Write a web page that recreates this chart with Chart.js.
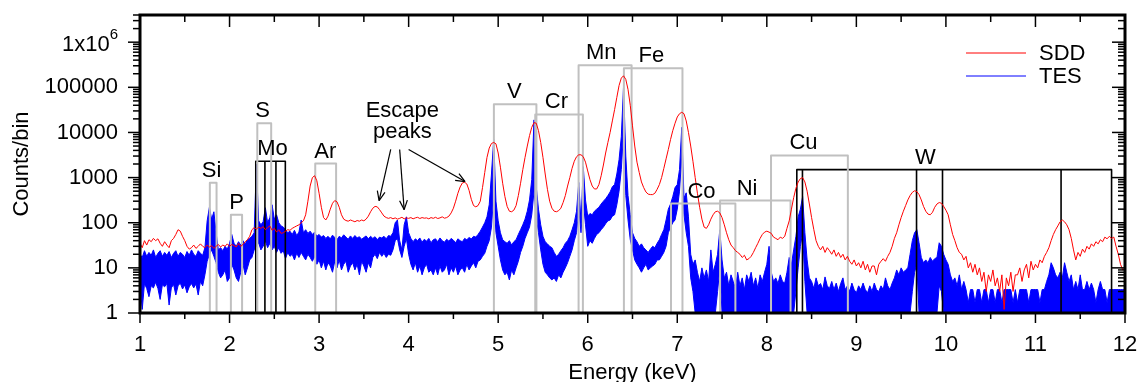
<!DOCTYPE html>
<html><head><meta charset="utf-8">
<script src="https://cdn.jsdelivr.net/npm/chart.js@4"></script>
<style>html,body{margin:0;padding:0;background:#fff}#wrap{width:1138px;height:382px;position:relative}</style>
</head><body><div id="wrap"><canvas id="c" width="1138" height="382"></canvas></div>
<script>
// ---- bin grid (keV): each row holds four 0.025 keV bins starting at 1.0 + 0.1*row
const binStart = 1.0, rowWidth = 0.1, binWidth = 0.025;

// ---- SDD spectrum (counts/bin)
const sddCounts = [
[35,28,40,32],[42,38,45,40],[44,35,30,38],[32,28,40,45],[55,70,65,50],
[40,30,26,28],[32,27,30,34],[30,28,32,29],[31,27,30,33],[29,32,30,34],
[30,33,31,29],[35,30,33,38],[42,50,70,78],[72,80,75,82],[70,78,85,68],
[75,62,70,58],[60,65,70,68],[75,80,85,90],[100,110,150,300],[650,1000,1100,850],
[450,220,130,115],[140,200,270,310],[290,220,150,120],[112,108,115,110],[105,112,108,115],
[110,120,140,175],[210,230,225,195],[165,140,130,125],[130,122,128,120],[125,132,122,128],
[125,130,122,128],[132,124,130,126],[128,122,130,125],[132,124,128,135],[126,130,140,165],
[210,300,450,620],[760,790,720,520],[330,240,225,240],[300,600,1300,2800],[4500,5700,6000,5600],
[3500,1700,750,380],[230,180,175,190],[240,400,750,1500],[2800,5000,8500,13000],[16500,16000,11000,6000],
[2800,1200,550,300],[210,180,175,185],[210,280,400,650],[1000,1600,2300,2900],[3200,3200,2900,2200],
[1400,900,650,560],[560,700,1100,1900],[3500,6000,10000,18000],[32000,60000,110000,160000],[180000,150000,90000,40000],
[14000,5000,2200,1300],[800,600,480,430],[420,420,450,550],[700,1000,1600,2600],[4200,7000,11000,16000],
[22000,26000,28000,26000],[18000,10000,5000,2300],[1000,450,220,120],[80,75,90,120],[150,175,180,165],
[130,90,60,42],[32,28,24,22],[20,17,19,15],[16,18,22,28],[35,45,55,62],
[65,62,58,48],[45,42,48,45],[50,75,110,200],[360,580,800,950],[1000,800,500,260],
[130,70,40,30],[25,30,22,28],[24,20,25,18],[22,17,20,15],[18,14,12,15],
[11,13,10,14],[9,12,8,11],[11,7,12,14],[16,14,18,22],[30,45,60,90],
[130,180,240,320],[400,470,510,490],[420,320,230,180],[155,150,170,220],[260,280,270,230],
[190,150,90,55],[40,28,22,20],[15,18,10,13],[8,12,7,10],[5,8,3,7],
[5,9,4,6],[3,7,1.2,6],[4,8,3,7],[7,10,5,9],[12,6,14,9],
[12,10,15,13],[18,22,28,40],[55,70,85,105],[115,105,90,70],[45,25,15,22],
[18,26,22,30],[26,34,30,38],[34,42,38,48],[44,50,45,48],[30,20,12,9],
[10]
];

// ---- TES spectrum: upper and lower edge of the noisy trace (counts/bin)
const tesHigh = [
[20,17,24,18],[22,19,25,17],[21,24,18,22],[19,23,17,21],[24,18,22,20],
[17,23,19,25],[20,18,24,21],[19,28,110,220],[120,175,60,25],[28,24,30,26],
[35,55,35,30],[38,32,40,34],[42,45,50,60],[2000,110,90,105],[215,100,130,250],
[120,150,100,85],[80,70,60,65],[55,68,52,62],[115,60,70,58],[65,55,62,50],
[55,48,52,45],[50,44,53,47],[42,50,46,54],[48,43,51,45],[52,46,49,43],
[47,51,44,50],[45,49,42,48],[46,50,44,52],[50,60,100,115],[40,25,90,135],
[60,45,38,44],[40,46,37,43],[39,45,36,42],[44,38,46,40],[37,43,39,45],
[41,36,44,40],[38,45,42,47],[44,50,48,55],[65,80,100,135],[250,1200,7000,300],
[110,60,42,38],[35,40,32,38],[42,55,70,90],[120,180,320,900],[19000,630,200,90],
[50,38,34,30],[28,22,18,20],[24,28,35,40],[50,70,100,180],[780,100,1750,320],
[140,160,150,180],[200,220,260,300],[340,400,480,630],[700,1200,2500,8000],[105000,3000,400,150],
[60,45,38,30],[34,28,25,22],[26,30,28,35],[42,55,70,115],[200,260,380,600],
[700,1500,13000,350],[460,135,20,12],[15,8,5,10],[6,9,5,25],[8,12,20,70],
[15,6,8,4],[7,5,3.5,8],[4,6,3.3,7],[5,8,4,6],[3.5,7,5,8],
[12,30,8,5],[6,4.5,7,5],[4.6,8,17,12],[25,50,135,200],[380,60,15,6],
[5,3.5,6,4],[4.5,3.3,6.3,4],[3.5,5,3.3,4.6],[3,4.5,6,3.3],[4,3,4.6,3.3],
[2.8,4,3.3,4.6],[3.3,2.8,4,3],[4.6,3.3,3,4],[3.3,6,4,3.3],[4.6,6,9,7],
[10,8,9,10],[20,40,60,70],[36,17,13,15],[13,17,14,16],[17,36,30,20],
[15,12,7,5],[6,4,7,3.3],[5,3.3,1.7,3.3],[3.3,1.7,3.3,3.3],[1.7,3.3,3.3,1.7],
[3.3,3.3,1.7,3.3],[3.3,1.7,3.3,3.3],[3.3,3.3,1.7,3.3],[1.7,3.3,3.3,3.3],[3.3,1.7,3.3,3.3],
[3.3,3.3,1.7,3.3],[3.3,5,7,13],[10,7,6,8],[6,13,8,5],[7,3.3,5,3.3],
[7,3.3,3.3,5],[3.3,4.6,3.3,1.7],[3.3,5,3.3,3.3],[1.7,3.3,3.3,3.3],[3.3,3.3,3.3,3.3],
[3.3]
];
const tesLow = [
[4,1.2,4.5,3.5],[2.3,4,3.6,4.8],[3.5,2,4.2,3.8],[4.5,1.5,3.6,4.3],[2.5,4,4.6,3.4],
[4.2,2.8,3.8,4.5],[3.6,4.4,2.5,5],[4,7,14,20],[25,18,13,8],[6,7,9,5],
[6,12,9,6],[5,8,12,7],[10,15,17,25],[30,36,25,30],[40,28,35,25],
[30,22,28,21],[24,16,22,18],[20,15,21,17],[22,18,15,20],[17,14,18,12],
[15,10,14,9],[13,11,8,14],[10,15,9,12],[14,8,11,13],[9,12,7,14],
[11,8,13,10],[17,20,16,22],[18,21,17,20],[19,25,40,45],[25,17,30,45],
[20,12,9,13],[8,11,7,10],[12,8,9,7],[10,7,11,8],[9,12,7,10],
[8,11,7,9],[10,8,12,9],[11,13,10,14],[15,18,21,30],[40,80,400,60],
[30,15,9,7],[8,5.4,9,7],[10,14,22,30],[45,60,80,150],[500,135,60,25],
[12,8,7,6],[5.4,6,5,7],[6,8,10,13],[18,25,40,60],[200,60,300,90],
[30,40,35,45],[55,60,70,80],[95,110,115,140],[150,250,500,1500],[10000,400,115,42],
[25,15,12,10],[8,10,12,9],[10,11,12,15],[15,18,22,30],[60,80,100,115],
[200,500,3000,150],[60,30,6,3],[1,1,1,1],[1,1,1,1],[1,1,3,10],
[1,1,1,1],[1,1,1,1],[1,1,1,1],[1,1,1,1],[1,1,1,1],
[1,1,1,1],[1,1,1,1],[1,1,1,1],[1,3,10,30],[60,5,1,1],
[1,1,1,1],[1,1,1,1],[1,1,1,1],[1,1,1,1],[1,1,1,1],
[1,1,1,1],[1,1,1,1],[1,1,1,1],[1,1,1,1],[1,1,1,1],
[1,1,1,1],[1,3,8,12],[1,1,1,1],[1,1,1,1],[1,4,3,1],
[1,1,1,1],[1,1,1,1],[1,1,1,1],[1,1,1,1],[1,1,1,1],
[1,1,1,1],[1,1,1,1],[1,1,1,1],[1,1,1,1],[1,1,1,1],
[1,1,1,1],[1,1,1,1],[1,1,1,1],[1,1,1,1],[1,1,1,1],
[1,1,1,1],[1,1,1,1],[1,1,1,1],[1,1,1,1],[1,1,1,1],
[1]
];

// ---- element line markers (keV) and marker heights (counts/bin)
const elementNames   = ['Si','P','S','Mo','Ar','V','Cr','Mn','Fe','Co','Ni','Cu','W'];
const elementLines   = [[1.78,1.855],[2.015,2.14],[2.31,2.465],[2.293,2.395,2.518,2.623],[2.957,3.19],
                        [4.952,5.427],[5.414,5.946],[5.898,6.49],[6.404,7.058],[6.93,7.649],
                        [7.478,8.265],[8.047,8.905],[8.335,8.398,9.672,9.962,11.286,11.85]];
const elementTops    = [770,150,16000,2300,2050,42000,25000,310000,265000,265,310,3100,1500];
const elementLabelE  = [1.80,2.08,2.37,2.48,3.07,5.18,5.65,6.15,6.71,7.27,7.78,8.41,9.77];

// ---- escape-peak annotation (keV, counts/bin)
const escapeText  = [['Escape',3.93,21500],['peaks',3.93,7700]];
const arrowTails  = [[3.80,4200],[3.90,4200],[4.00,4200]];
const arrowHeads  = [[3.67,310],[3.95,195],[4.63,815]];

// ---- axes
const xRange = [1,12];
const yRange = [1,4e6];
const xMajorTicks = [1,2,3,4,5,6,7,8,9,10,11,12];
const xMinorTicks = [1.5,2.5,3.5,4.5,5.5,6.5,7.5,8.5,9.5,10.5,11.5];
const yMajorTicks = [1,10,100,1000,10000,100000,1000000];
const yTickLabels = ['1','10','100','1000','10000','100000','1x10^6'];
const seriesNames = ['SDD','TES'];

// ---- styling
const FONT = "'Liberation Sans', Arial, Helvetica, sans-serif";
const RED = '#ff0000', BLUE = '#0000ff', GRAY = '#c0c0c0';
const blackMarkers = ['Mo','W'];

function rowsToPoints(rows){
  const pts=[];
  rows.forEach((row,r)=>row.forEach((v,j)=>pts.push({x:+(binStart+r*rowWidth+j*binWidth).toFixed(3),y:v})));
  return pts;
}
function markerPoints(lines, top){
  const a=lines[0], b=lines[lines.length-1];
  const pts=[{x:a,y:1},{x:a,y:top},{x:b,y:top},{x:b,y:1}];
  lines.slice(1,-1).forEach(e=>{pts.push({x:e,y:null},{x:e,y:1},{x:e,y:top});});
  return pts;
}
const yMinor=[];
for(let k=0;k<=6;k++){for(let m=2;m<=9;m++){const v=m*Math.pow(10,k); if(v<=yRange[1]) yMinor.push(v);}}

const datasets=[
  {label:seriesNames[0],data:rowsToPoints(sddCounts),borderColor:RED,borderWidth:1,pointRadius:0,fill:false,order:0},
  {label:seriesNames[1],data:rowsToPoints(tesHigh),borderColor:BLUE,backgroundColor:BLUE,borderWidth:1,pointRadius:0,fill:'+1',order:3},
  {label:'TESlow',data:rowsToPoints(tesLow),borderColor:BLUE,borderWidth:1,pointRadius:0,fill:false,order:3}
];
elementNames.forEach((n,i)=>{
  datasets.push({label:'m_'+n,data:markerPoints(elementLines[i],elementTops[i]),
    borderColor: blackMarkers.includes(n)?'#000':GRAY, borderWidth: blackMarkers.includes(n)?1.6:2,
    pointRadius:0,fill:false,spanGaps:false,order:1});
});

function seg(ctx,x1,y1,x2,y2){ctx.beginPath();ctx.moveTo(x1,y1);ctx.lineTo(x2,y2);ctx.stroke();}

const decor={
  id:'decor',
  afterDraw(chart){
    const {ctx,chartArea:a,scales:{x,y}}=chart;
    ctx.save();
    ctx.strokeStyle='#000';ctx.fillStyle='#000';
    ctx.font='22px '+FONT;ctx.textAlign='center';ctx.textBaseline='alphabetic';
    elementNames.forEach((n,i)=>{
      ctx.fillText(n,x.getPixelForValue(elementLabelE[i]),y.getPixelForValue(elementTops[i])-6);
    });
    escapeText.forEach(t=>ctx.fillText(t[0],x.getPixelForValue(t[1]),y.getPixelForValue(t[2])));
    ctx.lineWidth=1.2;
    arrowTails.forEach((t,i)=>{
      const x1=x.getPixelForValue(t[0]),y1=y.getPixelForValue(t[1]);
      const x2=x.getPixelForValue(arrowHeads[i][0]),y2=y.getPixelForValue(arrowHeads[i][1]);
      seg(ctx,x1,y1,x2,y2);
      const ang=Math.atan2(y2-y1,x2-x1),L=10,sp=0.4;
      seg(ctx,x2,y2,x2-L*Math.cos(ang-sp),y2-L*Math.sin(ang-sp));
      seg(ctx,x2,y2,x2-L*Math.cos(ang+sp),y2-L*Math.sin(ang+sp));
    });
    ctx.lineWidth=1.5;
    xMajorTicks.forEach(v=>{const p=x.getPixelForValue(v);seg(ctx,p,a.bottom,p,a.bottom+10);seg(ctx,p,a.top,p,a.top+12);});
    xMinorTicks.forEach(v=>{const p=x.getPixelForValue(v);seg(ctx,p,a.bottom,p,a.bottom+6);seg(ctx,p,a.top,p,a.top+7);});
    yMajorTicks.forEach(v=>{const p=y.getPixelForValue(v);seg(ctx,a.left-12,p,a.left,p);seg(ctx,a.right-13,p,a.right,p);});
    yMinor.forEach(v=>{const p=y.getPixelForValue(v);seg(ctx,a.left-7,p,a.left,p);seg(ctx,a.right-7,p,a.right,p);});
    ctx.lineWidth=3;ctx.strokeRect(a.left,a.top,a.right-a.left,a.bottom-a.top);
    ctx.font='22px '+FONT;ctx.textAlign='center';ctx.textBaseline='alphabetic';
    xMajorTicks.forEach(v=>ctx.fillText(String(v),x.getPixelForValue(v),a.bottom+38));
    ctx.textAlign='right';ctx.textBaseline='middle';
    const lx=a.left-22;
    yMajorTicks.forEach((v,i)=>{
      const p=y.getPixelForValue(v);const lab=yTickLabels[i];
      if(lab.includes('^')){
        const [b,e]=lab.split('^');
        ctx.font='15px '+FONT;const ew=ctx.measureText(e).width;
        ctx.textAlign='left';ctx.fillText(e,lx-ew,p-7);
        ctx.font='22px '+FONT;ctx.textAlign='right';ctx.fillText(b,lx-ew,p+3);
      } else ctx.fillText(lab,lx,p);
    });
    ctx.textAlign='center';ctx.textBaseline='alphabetic';
    ctx.fillText('Energy (keV)',(a.left+a.right)/2,379);
    ctx.save();ctx.translate(22,(a.top+a.bottom)/2);ctx.rotate(-Math.PI/2);
    ctx.textBaseline='middle';ctx.fillText('Counts/bin',0,0);ctx.restore();
    ctx.lineWidth=1;ctx.textAlign='left';ctx.textBaseline='middle';
    [[RED,53],[BLUE,76]].forEach((s,i)=>{
      ctx.strokeStyle=s[0];seg(ctx,966,s[1],1026,s[1]);
      ctx.fillStyle='#000';ctx.fillText(seriesNames[i],1039,s[1]+1);
    });
    ctx.restore();
  }
};

new Chart(document.getElementById('c'),{
  type:'line',
  data:{datasets},
  options:{
    responsive:false,animation:false,devicePixelRatio:1,
    layout:{padding:{left:140,right:13,top:15,bottom:69}},
    elements:{line:{tension:0,borderJoinStyle:'round'}},
    plugins:{legend:{display:false},title:{display:false},tooltip:{enabled:false}},
    scales:{
      x:{type:'linear',min:xRange[0],max:xRange[1],display:false},
      y:{type:'logarithmic',min:yRange[0],max:yRange[1],display:false}
    }
  },
  plugins:[decor]
});
</script></body></html>
